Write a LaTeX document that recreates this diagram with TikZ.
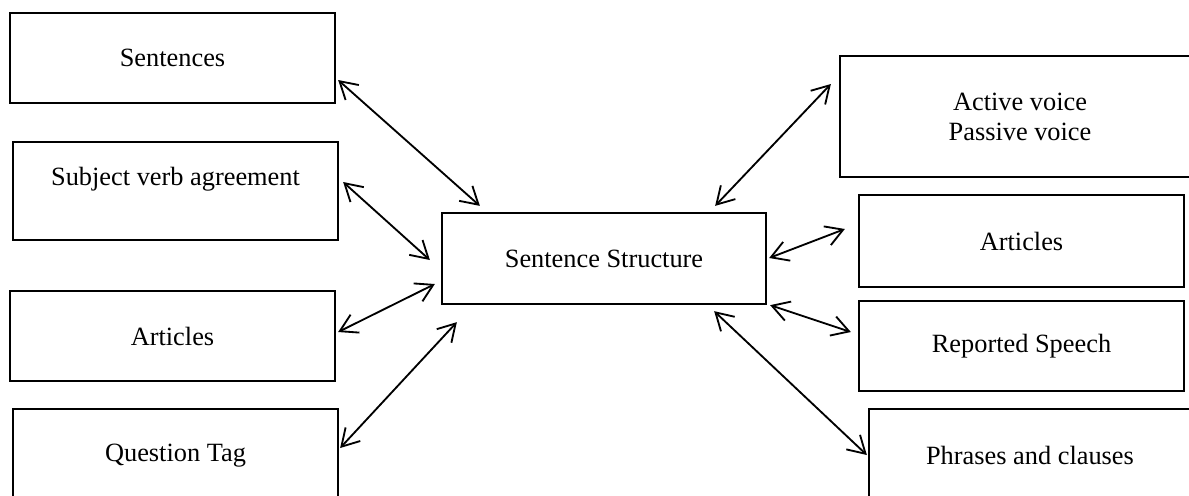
\documentclass[tikz,border=0pt]{standalone}
\usepackage{fontspec}
\setmainfont{Liberation Serif}
\usepackage{tikz}
\usetikzlibrary{arrows.meta, positioning, calc}

\tikzset{
    topicbox/.style={draw=black, line width=1.3pt, fill=white, inner sep=0pt,
        align=center, font=\fontsize{15}{17}\selectfont},
    link/.style={line width=1.05pt, {Straight Barb[length=3.4mm,width=4mm]}-{Straight Barb[length=3.4mm,width=4mm]}}
}

\begin{document}
\begin{tikzpicture}[x=0.02cm, y=-0.02cm]
    \useasboundingbox (0,0) rectangle (1189,495);
    \clip (0,0) rectangle (1189,495);

    % Centre
    \node[topicbox, minimum width=324*0.02cm, minimum height=91*0.02cm] (main) at (604,258.5) {Sentence Structure};

    % Left column
    \node[topicbox, minimum width=325*0.02cm, minimum height=90*0.02cm] (sent) at (172.5,58) {Sentences};
    \node[topicbox, minimum width=325*0.02cm, minimum height=98*0.02cm] (subj) at (175.5,191) {Subject verb agreement\\ ~};
    \node[topicbox, minimum width=325*0.02cm, minimum height=90*0.02cm] (artl) at (172.5,336) {Articles};
    \node[topicbox, minimum width=325*0.02cm, minimum height=94*0.02cm] (qtag) at (175.5,456) {Question Tag};

    % Right column
    \node[topicbox, minimum width=360*0.02cm, minimum height=121*0.02cm] (voice) at (1020,116.5) {Active voice\\Passive voice};
    \node[topicbox, minimum width=325*0.02cm, minimum height=92*0.02cm] (artr) at (1021.5,241) {Articles};
    \node[topicbox, minimum width=325*0.02cm, minimum height=90*0.02cm] (rept) at (1021.5,346) {Reported Speech};
    \node[topicbox, minimum width=322*0.02cm, minimum height=92*0.02cm] (phr) at (1030,455) {Phrases and clauses};

    % Links
    \draw[link] ($(sent.east)+(2,22)$) -- ($(main.north west)+(39,-6)$);
    \draw[link] ($(subj.east)+(4,-9)$) -- ($(main.west)+(-11,1.5)$);
    \draw[link] ($(artl.east)+(2,-4)$) -- ($(main.west)+(-6,25.5)$);
    \draw[link] ($(qtag.east)+(1,-8)$) -- ($(main.south west)+(16,17)$);
    \draw[link] ($(main.north east)+(-52,-6)$) -- ($(voice.west)+(-8,-32.5)$);
    \draw[link] ($(main.east)+(2,-0.5)$) -- ($(artr.west)+(-13,-12)$);
    \draw[link] ($(main.south east)+(3,0)$) -- ($(rept.west)+(-7,-14)$);
    \draw[link] ($(main.south east)+(-53,6)$) -- ($(phr.west)+(-1,0)$);
\end{tikzpicture}
\end{document}
